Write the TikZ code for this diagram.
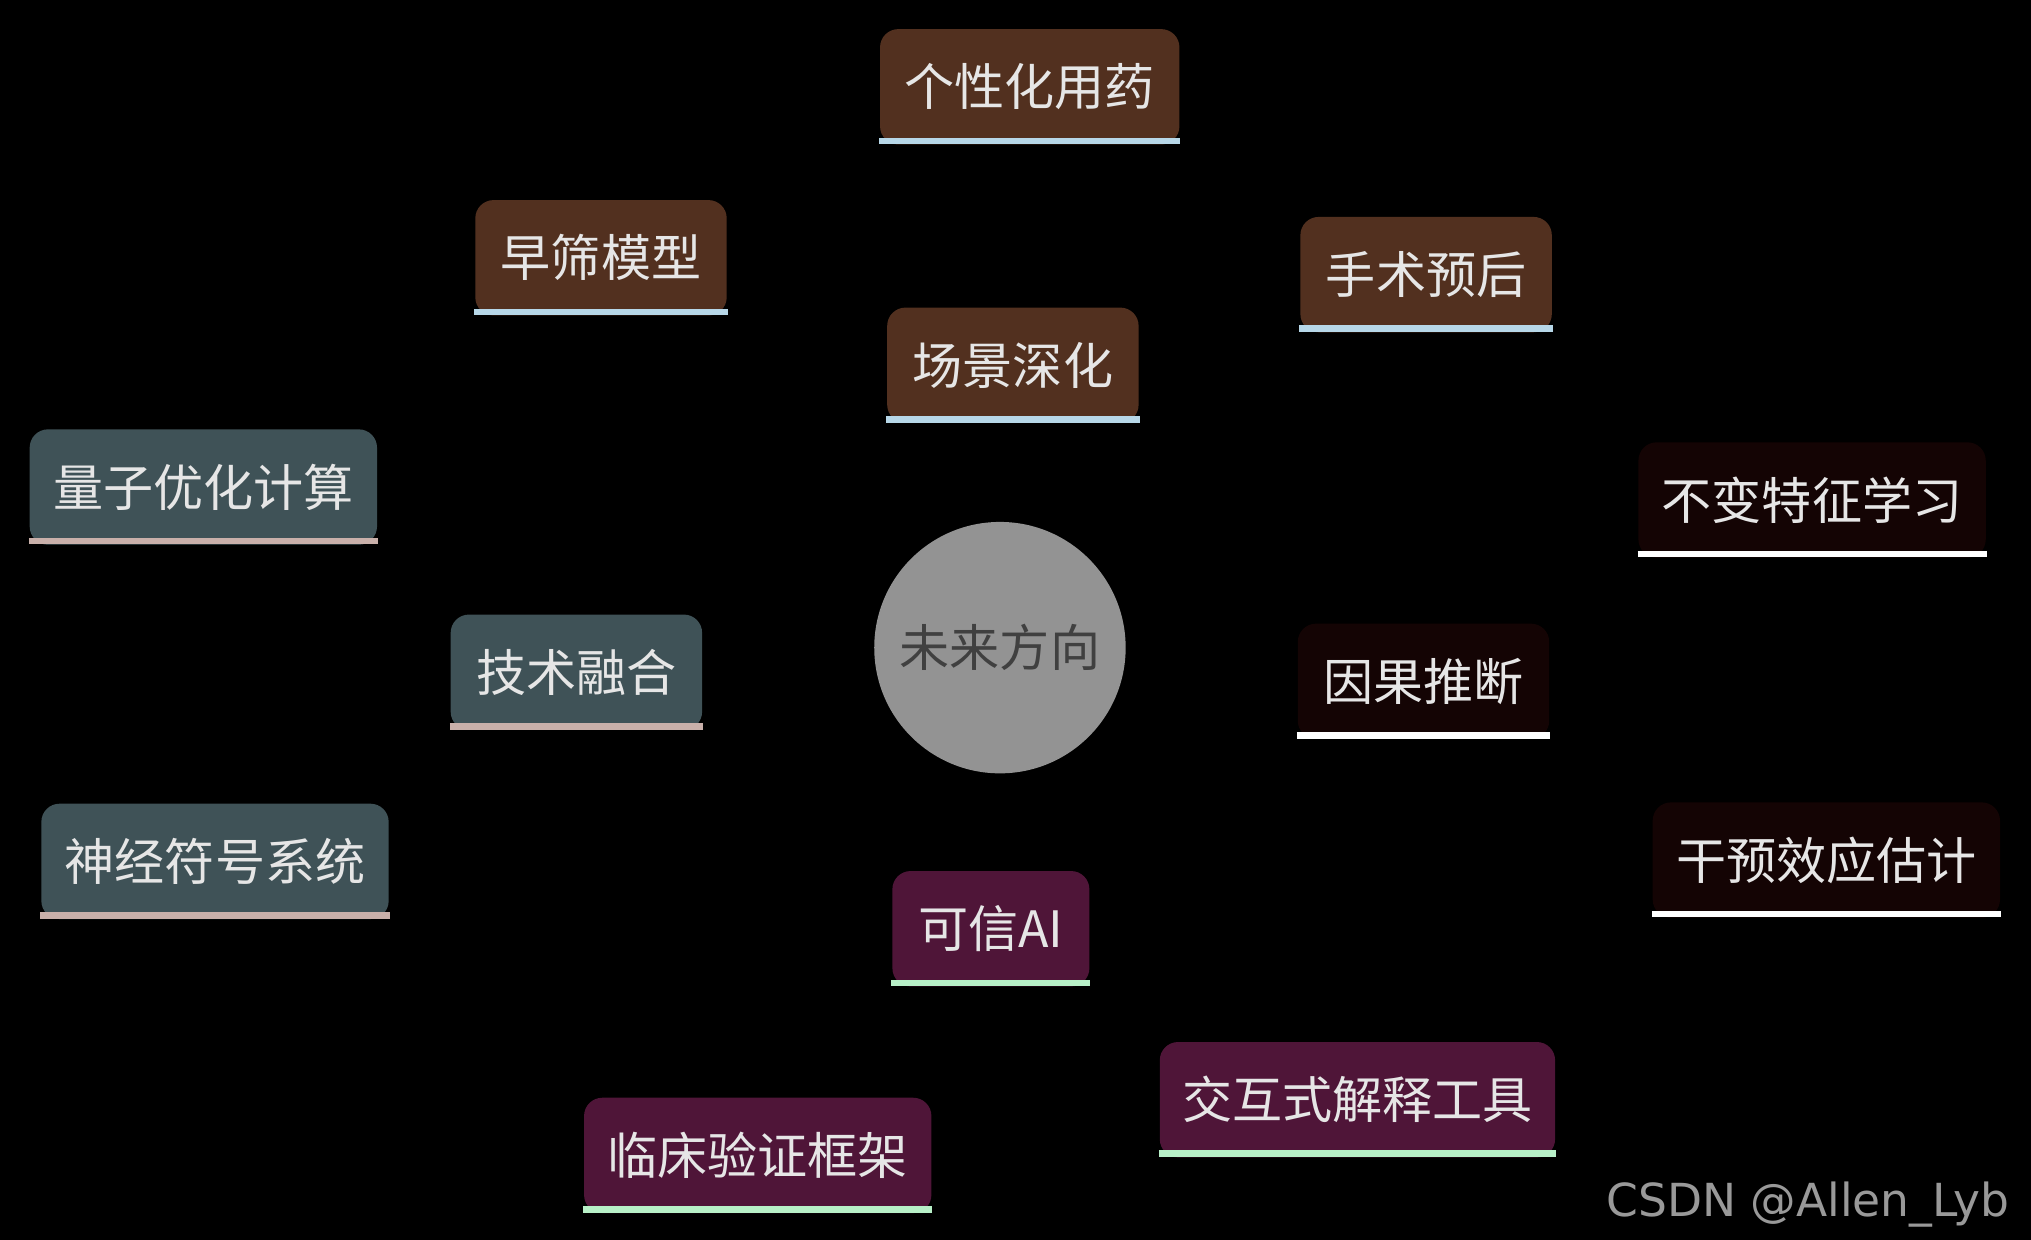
\documentclass[tikz,border=0pt]{standalone}
\usepackage{fontspec}
\setmainfont{Noto Sans CJK SC}
\newfontfamily\wmfont{DejaVu Sans}
\usetikzlibrary{positioning,backgrounds}
\definecolor{scene}{HTML}{52301F}
\definecolor{tech}{HTML}{3F5257}
\definecolor{cause}{HTML}{140404}
\definecolor{trust}{HTML}{4F1538}
\definecolor{lblue}{HTML}{B7D7E8}
\definecolor{lpink}{HTML}{C9B0AA}
\definecolor{lgreen}{HTML}{B8F0C8}
\definecolor{txt}{HTML}{E6E6E6}

\begin{document}
\begin{tikzpicture}[
  x=0.01cm, y=-0.01cm,
  topic/.style={rectangle, rounded corners=4pt, text=txt, font=\fontsize{11}{13}\selectfont, minimum height=0.89cm, inner sep=0pt},
  hub/.style={circle, fill=gray!85!white, text=black!75, minimum size=1.94cm, font=\fontsize{11}{13}\selectfont},
  link/.style={line width=0.3cm},
  sublink/.style={line width=0.22cm},
  underbar/.style={line width=0.05cm}
]
\fill[black] (0,0) rectangle (1568,957);
\useasboundingbox (0,0) rectangle (1568,957);

% Center
\node (hub) [hub] at (772,500) {未来方向};

% Branches
\node (scene) [topic, fill=scene, minimum width=1.94cm] at (782,282) {场景深化};
\node (drug) [topic, fill=scene, minimum width=2.31cm] at (795,67) {个性化用药};
\node (screen) [topic, fill=scene, minimum width=1.94cm] at (464,199) {早筛模型};
\node (surg) [topic, fill=scene, minimum width=1.94cm] at (1101,212) {手术预后};

\node (tech) [topic, fill=tech, minimum width=1.94cm] at (445,519) {技术融合};
\node (quant) [topic, fill=tech, minimum width=2.68cm] at (157,376) {量子优化计算};
\node (neuro) [topic, fill=tech, minimum width=2.68cm] at (166,665) {神经符号系统};

\node (cause) [topic, fill=cause, minimum width=1.94cm] at (1099,526) {因果推断};
\node (invar) [topic, fill=cause, minimum width=2.68cm] at (1399,386) {不变特征学习};
\node (effect) [topic, fill=cause, minimum width=2.68cm] at (1410,664) {干预效应估计};

\node (trust) [topic, fill=trust, minimum width=1.52cm] at (765,717) {可信AI};
\node (clinic) [topic, fill=trust, minimum width=2.68cm] at (585,892) {临床验证框架};
\node (explain) [topic, fill=trust, minimum width=3.05cm] at (1048,849) {交互式解释工具};

% Underlines
\foreach \n/\c in {scene/lblue, drug/lblue, screen/lblue, surg/lblue,
                   tech/lpink, quant/lpink, neuro/lpink,
                   cause/white, invar/white, effect/white,
                   trust/lgreen, clinic/lgreen, explain/lgreen}
  \draw[underbar, \c] ([yshift=1pt]\n.south west) -- ([yshift=1pt]\n.south east);

% Connections
\begin{pgfonlayer}{background}
\draw[link, scene] (hub) -- (scene);
\draw[link, tech] (hub) -- (tech);
\draw[link, cause] (hub) -- (cause);
\draw[link, trust] (hub) -- (trust);
\draw[sublink, scene] (scene) -- (drug);
\draw[sublink, scene] (scene) -- (screen);
\draw[sublink, scene] (scene) -- (surg);
\draw[sublink, tech] (tech) -- (quant);
\draw[sublink, tech] (tech) -- (neuro);
\draw[sublink, cause] (cause) -- (invar);
\draw[sublink, cause] (cause) -- (effect);
\draw[sublink, trust] (trust) -- (clinic);
\draw[sublink, trust] (trust) -- (explain);
\end{pgfonlayer}

% Watermark
\node (wm) [text=gray!80, font=\wmfont\fontsize{10}{12}\selectfont, anchor=east] at (1564,930) {CSDN @Allen\_Lyb};

\end{tikzpicture}
\end{document}
